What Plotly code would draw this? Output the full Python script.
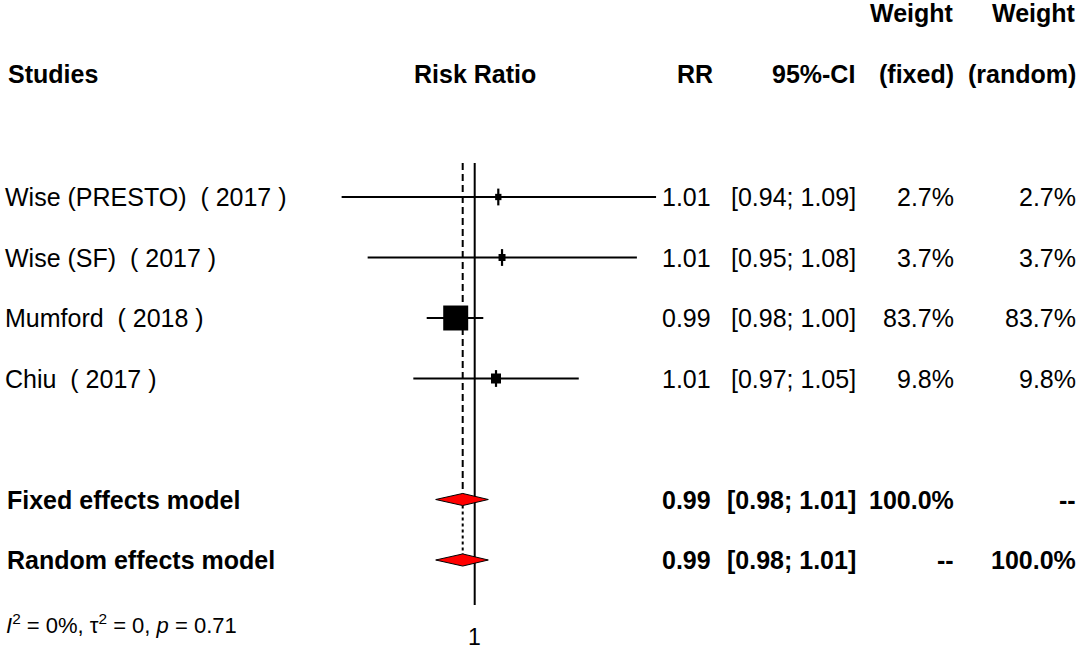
import plotly.graph_objects as go
import math

# ---------------- data ----------------
studies = ["Wise (PRESTO)  ( 2017 )", "Wise (SF)  ( 2017 )", "Mumford  ( 2018 )", "Chiu  ( 2017 )"]
rr = [1.0113, 1.0131, 0.9910, 1.0102]
ci_lower = [0.9386, 0.9503, 0.9774, 0.9712]
ci_upper = [1.0902, 1.0803, 1.0041, 1.0508]
weight_fixed = [2.7, 3.7, 83.7, 9.8]
weight_random = [2.7, 3.7, 83.7, 9.8]

pooled_labels = ["Fixed effects model", "Random effects model"]
pooled_rr = [0.9943, 0.9943]
pooled_lower = [0.9816, 0.9816]
pooled_upper = [1.0065, 1.0065]
pooled_weight_fixed = ["100.0%", "--"]
pooled_weight_random = ["--", "100.0%"]

heterogeneity = "<i>I</i><sup>2</sup> = 0%, τ<sup>2</sup> = 0, <i>p</i> = 0.71"
null_value = 1
tick_values = [1]
tick_labels = ["1"]

# ---------------- layout helpers ----------------
W, H = 1084, 649
ROW0, ROWH = 197.0, 60.5          # pixel centre of first study row, row spacing
PX_PER_LOG10 = 2100 * math.log(10)
X_NULL_PX = 474.7


def row(py):
    return (py - ROW0) / ROWH


def px(x):
    return x / W


FONT = "Liberation Sans, Arial, sans-serif"
FS = 25

study_rows = list(range(len(studies)))
pooled_rows = [5, 6]

fig = go.Figure()

# CI lines
cx, cy = [], []
for i, (lo, hi) in enumerate(zip(ci_lower, ci_upper)):
    cx += [lo, hi, None]
    cy += [study_rows[i], study_rows[i], None]
fig.add_trace(go.Scatter(x=cx, y=cy, mode="lines", line=dict(color="black", width=2),
                         hoverinfo="skip", showlegend=False))

# null line and pooled lines
fig.add_trace(go.Scatter(x=[null_value, null_value], y=[row(163), row(605)], mode="lines",
                         line=dict(color="black", width=2), showlegend=False, hoverinfo="skip"))
fig.add_trace(go.Scatter(x=[pooled_rr[0], pooled_rr[0]], y=[row(163), pooled_rows[0] - 0.1], mode="lines",
                         line=dict(color="black", width=2, dash="7px,4px"), showlegend=False, hoverinfo="skip"))
fig.add_trace(go.Scatter(x=[pooled_rr[1], pooled_rr[1]], y=[pooled_rows[0] + 0.1, pooled_rows[1] - 0.1], mode="lines",
                         line=dict(color="black", width=2, dash="dot"), showlegend=False, hoverinfo="skip"))

# study squares (area ~ weight)
sizes = [2.2 + 2.49 * math.sqrt(w) for w in weight_fixed]
fig.add_trace(go.Scatter(x=rr, y=study_rows, mode="markers",
                         marker=dict(symbol="line-ns", size=12, opacity=1, line=dict(color="black", width=2.2)),
                         showlegend=False, hoverinfo="skip"))
fig.add_trace(go.Scatter(x=rr, y=study_rows, mode="markers",
                         marker=dict(symbol="square", size=sizes, color="black", opacity=1, line=dict(width=0)),
                         showlegend=False, hoverinfo="skip"))

# pooled diamonds
for k in range(2):
    r = pooled_rows[k]
    h = 0.1
    fig.add_trace(go.Scatter(
        x=[pooled_lower[k], pooled_rr[k], pooled_upper[k], pooled_rr[k], pooled_lower[k]],
        y=[r, r - h, r, r + h, r], mode="lines", fill="toself", fillcolor="red",
        line=dict(color="black", width=1), showlegend=False, hoverinfo="skip"))

ann = []


def txt(x_px, y_px, text, anchor="left", size=FS, bold=False):
    if bold:
        text = "<b>" + text + "</b>"
    ann.append(dict(x=px(x_px), xref="paper", y=row(y_px), yref="y", text=text, showarrow=False,
                    xanchor=anchor, yanchor="middle", font=dict(family=FONT, size=size, color="black")))


# headers
txt(6, 74, "Studies", bold=True)
txt(475, 74, "Risk Ratio", anchor="center", bold=True)
txt(715, 74, "RR", anchor="right", bold=True)
txt(857, 74, "95%-CI", anchor="right", bold=True)
txt(956, 13, "Weight", anchor="right", bold=True)
txt(956, 74, "(fixed)", anchor="right", bold=True)
txt(1078, 13, "Weight", anchor="right", bold=True)
txt(1078, 74, "(random)", anchor="right", bold=True)

# study rows
for i, s in enumerate(studies):
    yp = ROW0 + ROWH * study_rows[i]
    txt(3, yp, s)
    txt(713, yp, f"{rr[i]:.2f}", anchor="right")
    txt(858, yp, f"[{ci_lower[i]:.2f}; {ci_upper[i]:.2f}]", anchor="right")
    txt(956, yp, f"{weight_fixed[i]:.1f}%", anchor="right")
    txt(1078, yp, f"{weight_random[i]:.1f}%", anchor="right")

# pooled rows
for k in range(2):
    yp = ROW0 + ROWH * pooled_rows[k]
    txt(5, yp, pooled_labels[k], bold=True)
    txt(713, yp, f"{pooled_rr[k]:.2f}", anchor="right", bold=True)
    txt(858, yp, f"[{pooled_lower[k]:.2f}; {pooled_upper[k]:.2f}]", anchor="right", bold=True)
    txt(956, yp, pooled_weight_fixed[k], anchor="right", bold=True)
    txt(1078, yp, pooled_weight_random[k], anchor="right", bold=True)

# heterogeneity
txt(4, 624, heterogeneity, size=22)

# x tick label at null value (data coords on log axis)
for tv, tl in zip(tick_values, tick_labels):
    ann.append(dict(x=math.log10(tv), xref="x", y=row(637), yref="y", text=tl, showarrow=False,
                    xanchor="center", yanchor="middle", font=dict(family=FONT, size=23, color="black")))

fig.update_layout(
    width=W, height=H, margin=dict(l=0, r=0, t=0, b=0),
    paper_bgcolor="white", plot_bgcolor="white",
    xaxis=dict(type="log", range=[-X_NULL_PX / PX_PER_LOG10, (W - X_NULL_PX) / PX_PER_LOG10],
               visible=False, domain=[0, 1]),
    yaxis=dict(range=[row(H), row(0)], visible=False, domain=[0, 1]),
    annotations=ann, showlegend=False,
)

fig.write_html("out.html", config={"displayModeBar": False},
               post_script="document.body.style.margin='0';document.body.style.overflow='hidden';")
